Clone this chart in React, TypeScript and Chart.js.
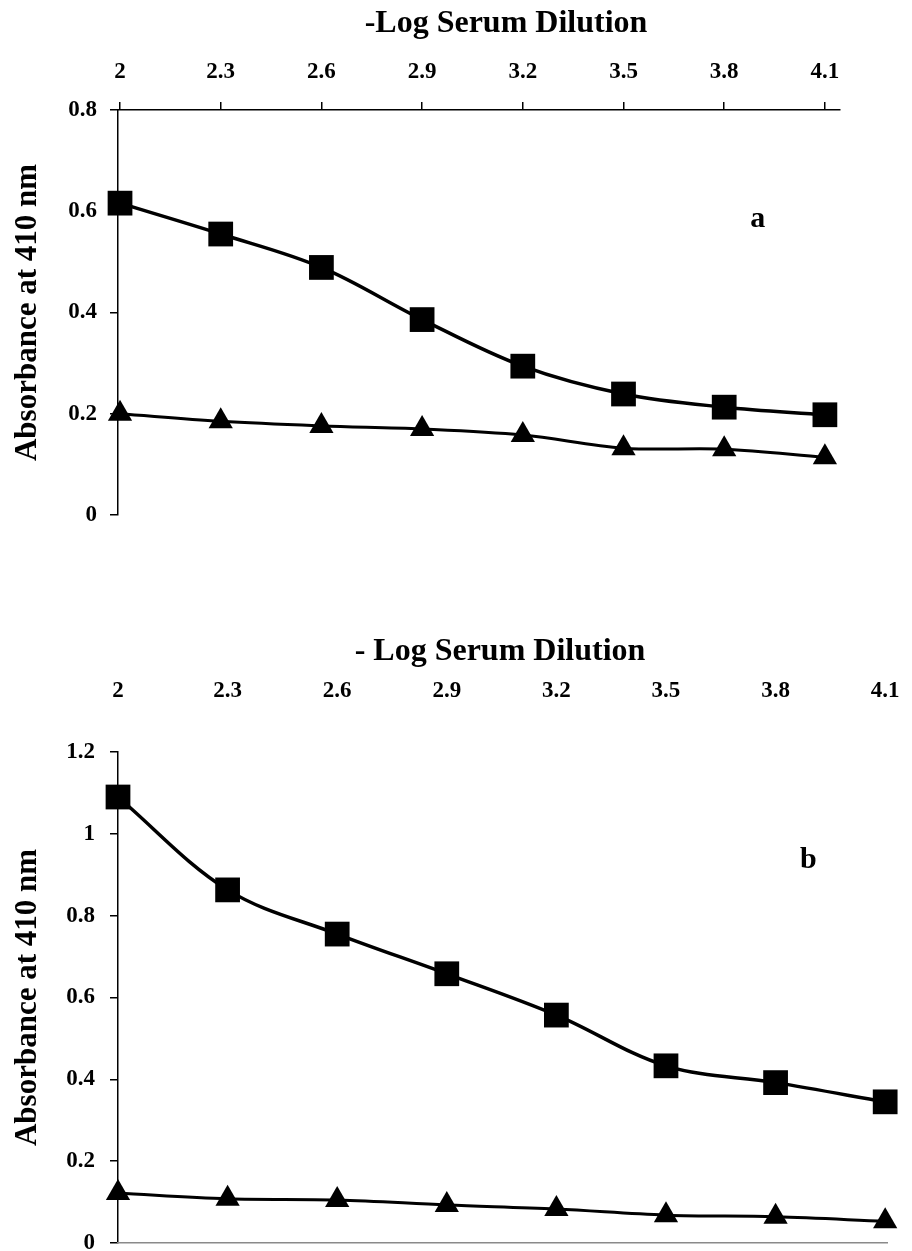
import React, { useEffect, useRef } from 'react';
import { Chart, registerables } from 'chart.js';

Chart.register(...registerables);

// -Log serum dilution steps shared by both panels
const dilutionLabels = ['2', '2.3', '2.6', '2.9', '3.2', '3.5', '3.8', '4.1'];
const dilutionValues = [2, 2.3, 2.6, 2.9, 3.2, 3.5, 3.8, 4.1];

// Panel a: absorbance at 410 nm
const immuneA = [0.616, 0.555, 0.489, 0.386, 0.294, 0.239, 0.213, 0.198];
const controlA = [0.2, 0.185, 0.176, 0.17, 0.158, 0.132, 0.13, 0.114];

// Panel b: absorbance at 410 nm
const immuneB = [1.09, 0.863, 0.755, 0.658, 0.557, 0.433, 0.392, 0.345];
const controlB = [0.122, 0.108, 0.105, 0.093, 0.083, 0.068, 0.064, 0.053];

const yTicksA = [0, 0.2, 0.4, 0.6, 0.8];
const yTicksB = [0, 0.2, 0.4, 0.6, 0.8, 1, 1.2];

const FONT = "'Liberation Serif', 'Times New Roman', serif";

type PanelSpec = {
  height: number;
  top: number;
  immune: number[];
  control: number[];
  yTicks: number[];
  xMin: number;
  xMax: number;
  pad: { left: number; top: number; right: number; bottom: number };
  xAxisHeight: number;
  xLabelPadding: number;
  showTopAxis: boolean;
  showBottomLine: boolean;
  yLabelPadding: number;
  axisTitle: string;
  titleX: number;
  titleY: number;
  letter: string;
  letterAt: { x: number; y: number };
};

const panels: PanelSpec[] = [
  {
    height: 580,
    top: 0,
    immune: immuneA,
    control: controlA,
    yTicks: yTicksA,
    xMin: 1.994,
    xMax: 4.145,
    pad: { left: 0, top: 0, right: 72, bottom: 65 },
    xAxisHeight: 110,
    xLabelPadding: 16,
    showTopAxis: true,
    showBottomLine: false,
    yLabelPadding: 13,
    axisTitle: '-Log Serum Dilution',
    titleX: 506,
    titleY: 24,
    letter: 'a',
    letterAt: { x: 3.9, y: 0.585 },
  },
  {
    height: 651,
    top: 600,
    immune: immuneB,
    control: controlB,
    yTicks: yTicksB,
    xMin: 2,
    xMax: 4.105,
    pad: { left: 0, top: 0, right: 25, bottom: 8 },
    xAxisHeight: 152,
    xLabelPadding: 47,
    showTopAxis: false,
    showBottomLine: true,
    yLabelPadding: 15,
    axisTitle: '- Log Serum Dilution',
    titleX: 500,
    titleY: 52,
    letter: 'b',
    letterAt: { x: 3.89, y: 0.935 },
  },
];

function toPoints(values: number[]) {
  return values.map((y, i) => ({ x: dilutionValues[i], y }));
}

// Draws the dilution axis title and the panel letter
const panelText = {
  id: 'panelText',
  afterDatasetsDraw(chart: any, _args: any, opts: any) {
    const { ctx, scales } = chart;
    ctx.save();
    ctx.fillStyle = '#000';
    ctx.textAlign = 'center';
    ctx.textBaseline = 'middle';
    ctx.font = `bold 32px ${FONT}`;
    ctx.fillText(opts.title, opts.titleX, opts.titleY);
    ctx.font = `bold 30px ${FONT}`;
    ctx.fillText(
      opts.letter,
      scales.x.getPixelForValue(opts.letterAt.x),
      scales.y.getPixelForValue(opts.letterAt.y)
    );
    ctx.restore();
  },
};

function Panel({ spec }: { spec: PanelSpec }) {
  const ref = useRef<HTMLCanvasElement>(null);

  useEffect(() => {
    if (!ref.current) return;
    const scales: any = {
      x: {
        type: 'linear',
        position: 'top',
        min: spec.xMin,
        max: spec.xMax,
        afterBuildTicks: (s: any) => {
          s.ticks = dilutionValues.map((v) => ({ value: v }));
        },
        afterFit: (s: any) => {
          s.height = spec.xAxisHeight;
          // the plot edges are fixed by the layout padding alone
          s.paddingLeft = 0;
          s.paddingRight = 0;
        },
        ticks: {
          autoSkip: false,
          maxRotation: 0,
          padding: spec.xLabelPadding,
          color: '#000',
          font: { family: FONT, size: 23, weight: 'bold' },
          callback: (_v: any, i: number) => dilutionLabels[i],
        },
        grid: {
          display: spec.showTopAxis,
          drawOnChartArea: false,
          drawTicks: spec.showTopAxis,
          tickLength: 8,
          color: '#000',
          lineWidth: 1.5,
        },
        border: { display: spec.showTopAxis, color: '#000', width: 1.5 },
      },
      y: {
        type: 'linear',
        position: 'left',
        min: 0,
        max: spec.yTicks[spec.yTicks.length - 1],
        afterBuildTicks: (s: any) => {
          s.ticks = spec.yTicks.map((v) => ({ value: v }));
        },
        afterFit: (s: any) => {
          s.width = 118;
          s.paddingTop = 0;
          s.paddingBottom = 0;
        },
        ticks: {
          padding: spec.yLabelPadding,
          color: '#000',
          font: { family: FONT, size: 23, weight: 'bold' },
          callback: (v: any) => String(v),
        },
        grid: {
          display: true,
          drawOnChartArea: false,
          drawTicks: true,
          tickLength: 8,
          color: '#000',
          lineWidth: 1.5,
        },
        border: { display: true, color: '#000', width: 1.5 },
        title: {
          display: true,
          text: 'Absorbance at 410 nm',
          color: '#000',
          font: { family: FONT, size: 31, weight: 'bold' },
          padding: { top: 9, bottom: 0 },
        },
      },
    };
    if (spec.showBottomLine) {
      scales.xb = {
        type: 'linear',
        position: 'bottom',
        min: spec.xMin,
        max: spec.xMax,
        afterFit: (s: any) => {
          s.height = 0;
          s.paddingLeft = 0;
          s.paddingRight = 0;
        },
        ticks: { display: false },
        grid: { display: false, drawTicks: false },
        border: { display: true, color: '#8a8a8a', width: 1.5 },
      };
    }

    const chart = new Chart(ref.current, {
      type: 'line',
      data: {
        datasets: [
          {
            label: 'Immune serum',
            data: toPoints(spec.immune),
            borderColor: '#000',
            backgroundColor: '#000',
            borderWidth: 3.5,
            tension: 0.35,
            pointStyle: 'rect',
            pointRadius: 17.5,
            pointBorderWidth: 0,
            clip: false,
          },
          {
            label: 'Control serum',
            data: toPoints(spec.control),
            borderColor: '#000',
            backgroundColor: '#000',
            borderWidth: 3,
            tension: 0.35,
            pointStyle: 'triangle',
            pointRadius: 14,
            pointBorderWidth: 0,
            clip: false,
          },
        ],
      } as any,
      options: {
        animation: false,
        responsive: false,
        layout: { padding: spec.pad, autoPadding: false },
        plugins: {
          legend: { display: false },
          tooltip: { enabled: false },
          panelText: {
            title: spec.axisTitle,
            titleX: spec.titleX,
            titleY: spec.titleY,
            letter: spec.letter,
            letterAt: spec.letterAt,
          },
        } as any,
        scales,
      },
      plugins: [panelText],
    });
    return () => chart.destroy();
  }, [spec]);

  return (
    <canvas
      ref={ref}
      width={912}
      height={spec.height}
      style={{
        position: 'absolute',
        left: 0,
        top: spec.top,
        width: 912,
        height: spec.height,
      }}
    />
  );
}

export default function App() {
  return (
    <div style={{ width: 912, height: 1251, background: '#fff' }}>
      {panels.map((p) => (
        <Panel key={p.letter} spec={p} />
      ))}
    </div>
  );
}
